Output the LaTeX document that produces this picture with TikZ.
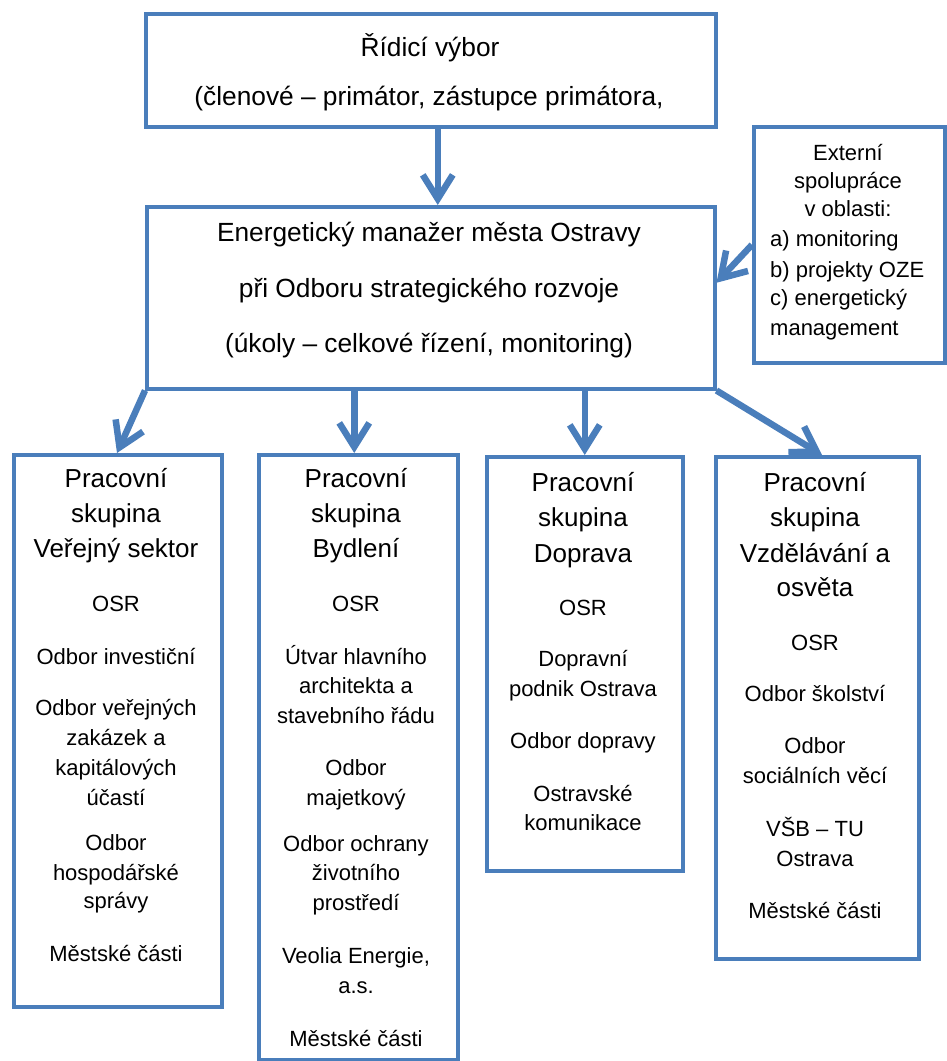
\documentclass[tikz,border=0pt]{standalone}
\usepackage{fontspec}
\setmainfont{Liberation Sans}
\usetikzlibrary{arrows.meta,shadows}
\definecolor{boxblue}{RGB}{74,126,187}
\tikzset{
  box/.style={draw=boxblue, line width=3.5pt, fill=white, anchor=north west, inner sep=0pt,
    drop shadow={shadow xshift=1.5pt, shadow yshift=-2pt, opacity=0.25}},
  arr/.style={draw=boxblue, line width=6.5pt, -{Straight Barb[length=24pt, width=30pt]}},
  tp/.style={font=\fontsize{26.3}{30}\selectfont, anchor=base, inner sep=0pt},
  hd/.style={font=\fontsize{26}{30}\selectfont, anchor=base, inner sep=0pt},
  bd/.style={font=\fontsize{22}{26}\selectfont, anchor=base, inner sep=0pt},
  bl/.style={font=\fontsize{22}{26}\selectfont, anchor=base west, inner sep=0pt}
}
\begin{document}
\begin{tikzpicture}[x=1pt,y=-1pt]
\useasboundingbox (0,0) rectangle (946,1061);
% boxes
\node[box, minimum width=570pt, minimum height=113pt] (top) at (144,12) {};
\node[box, minimum width=568pt, minimum height=182pt] (energ) at (145,205) {};
\node[box, minimum width=191pt, minimum height=236pt] (ext) at (752,125) {};
\node[box, minimum width=208pt, minimum height=552pt] (g1) at (12,453) {};
\node[box, minimum width=199pt, minimum height=605pt] (g2) at (257,453) {};
\node[box, minimum width=196pt, minimum height=414pt] (g3) at (485,455) {};
\node[box, minimum width=203pt, minimum height=502pt] (g4) at (714,455) {};
% top texts
\node[tp] (t1) at (430,56) {Řídicí výbor};
\node[tp] (t2) at (429,105) {(členové – primátor, zástupce primátora,};
\node[tp] (e1) at (429,241) {Energetický manažer města Ostravy};
\node[tp] (e2) at (429,297) {při Odboru strategického rozvoje};
\node[tp] (e3) at (429,352) {(úkoly – celkové řízení, monitoring)};
% external
\node[bd] (x1) at (848,160) {Externí};
\node[bd] (x2) at (848,188) {spolupráce};
\node[bd] (x3) at (848,216) {v oblasti:};
\node[bl] (x4) at (770,246) {a) monitoring};
\node[bl] (x5) at (770,277) {b) projekty OZE};
\node[bl] (x6) at (770,305) {c) energetický};
\node[bl] (x7) at (770,335) {management};
% group 1
\node[hd] (a1) at (116,487) {Pracovní};
\node[hd] (a2) at (116,522) {skupina};
\node[hd] (a3) at (116,557) {Veřejný sektor};
\node[bd] (a4) at (116,611) {OSR};
\node[bd] (a5) at (116,664) {Odbor investiční};
\node[bd] (a6) at (116,715) {Odbor veřejných};
\node[bd] (a7) at (116,745) {zakázek a};
\node[bd] (a8) at (116,775) {kapitálových};
\node[bd] (a9) at (116,805) {účastí};
\node[bd] (a10) at (116,850) {Odbor};
\node[bd] (a11) at (116,880) {hospodářské};
\node[bd] (a12) at (116,908) {správy};
\node[bd] (a13) at (116,961) {Městské části};
% group 2
\node[hd] (b1) at (356,487) {Pracovní};
\node[hd] (b2) at (356,522) {skupina};
\node[hd] (b3) at (356,557) {Bydlení};
\node[bd] (b4) at (356,611) {OSR};
\node[bd] (b5) at (356,664) {Útvar hlavního};
\node[bd] (b6) at (356,693) {architekta a};
\node[bd] (b7) at (356,723) {stavebního řádu};
\node[bd] (b8) at (356,775) {Odbor};
\node[bd] (b9) at (356,805) {majetkový};
\node[bd] (b10) at (356,851) {Odbor ochrany};
\node[bd] (b11) at (356,880) {životního};
\node[bd] (b12) at (356,910) {prostředí};
\node[bd] (b13) at (356,963) {Veolia Energie,};
\node[bd] (b14) at (356,993) {a.s.};
\node[bd] (b15) at (356,1046) {Městské části};
% group 3
\node[hd] (c1) at (583,491) {Pracovní};
\node[hd] (c2) at (583,526) {skupina};
\node[hd] (c3) at (583,562) {Doprava};
\node[bd] (c4) at (583,615) {OSR};
\node[bd] (c5) at (583,666) {Dopravní};
\node[bd] (c6) at (583,696) {podnik Ostrava};
\node[bd] (c7) at (583,748) {Odbor dopravy};
\node[bd] (c8) at (583,801) {Ostravské};
\node[bd] (c9) at (583,830) {komunikace};
% group 4
\node[hd] (d1) at (815,491) {Pracovní};
\node[hd] (d2) at (815,526) {skupina};
\node[hd] (d3) at (815,562) {Vzdělávání a};
\node[hd] (d4) at (815,596) {osvěta};
\node[bd] (d5) at (815,650) {OSR};
\node[bd] (d6) at (815,701) {Odbor školství};
\node[bd] (d7) at (815,753) {Odbor};
\node[bd] (d8) at (815,783) {sociálních věcí};
\node[bd] (d9) at (815,836) {VŠB – TU};
\node[bd] (d10) at (815,866) {Ostrava};
\node[bd] (d11) at (815,918) {Městské části};
% arrows
\draw[arr] ([xshift=7pt]top.south) -- ([xshift=7pt]top.south |- energ.north);
\draw[arr] (ext.west) -- ([yshift=15pt]energ.east);
\draw[arr] (energ.south west) -- ([xshift=105pt]g1.north west);
\draw[arr] ([xshift=-4pt]g2.north |- energ.south) -- ([xshift=-4pt]g2.north);
\draw[arr] (g3.north |- energ.south) -- (g3.north);
\draw[arr] (energ.south east) -- ([xshift=108pt]g4.north west);
\end{tikzpicture}
\end{document}
